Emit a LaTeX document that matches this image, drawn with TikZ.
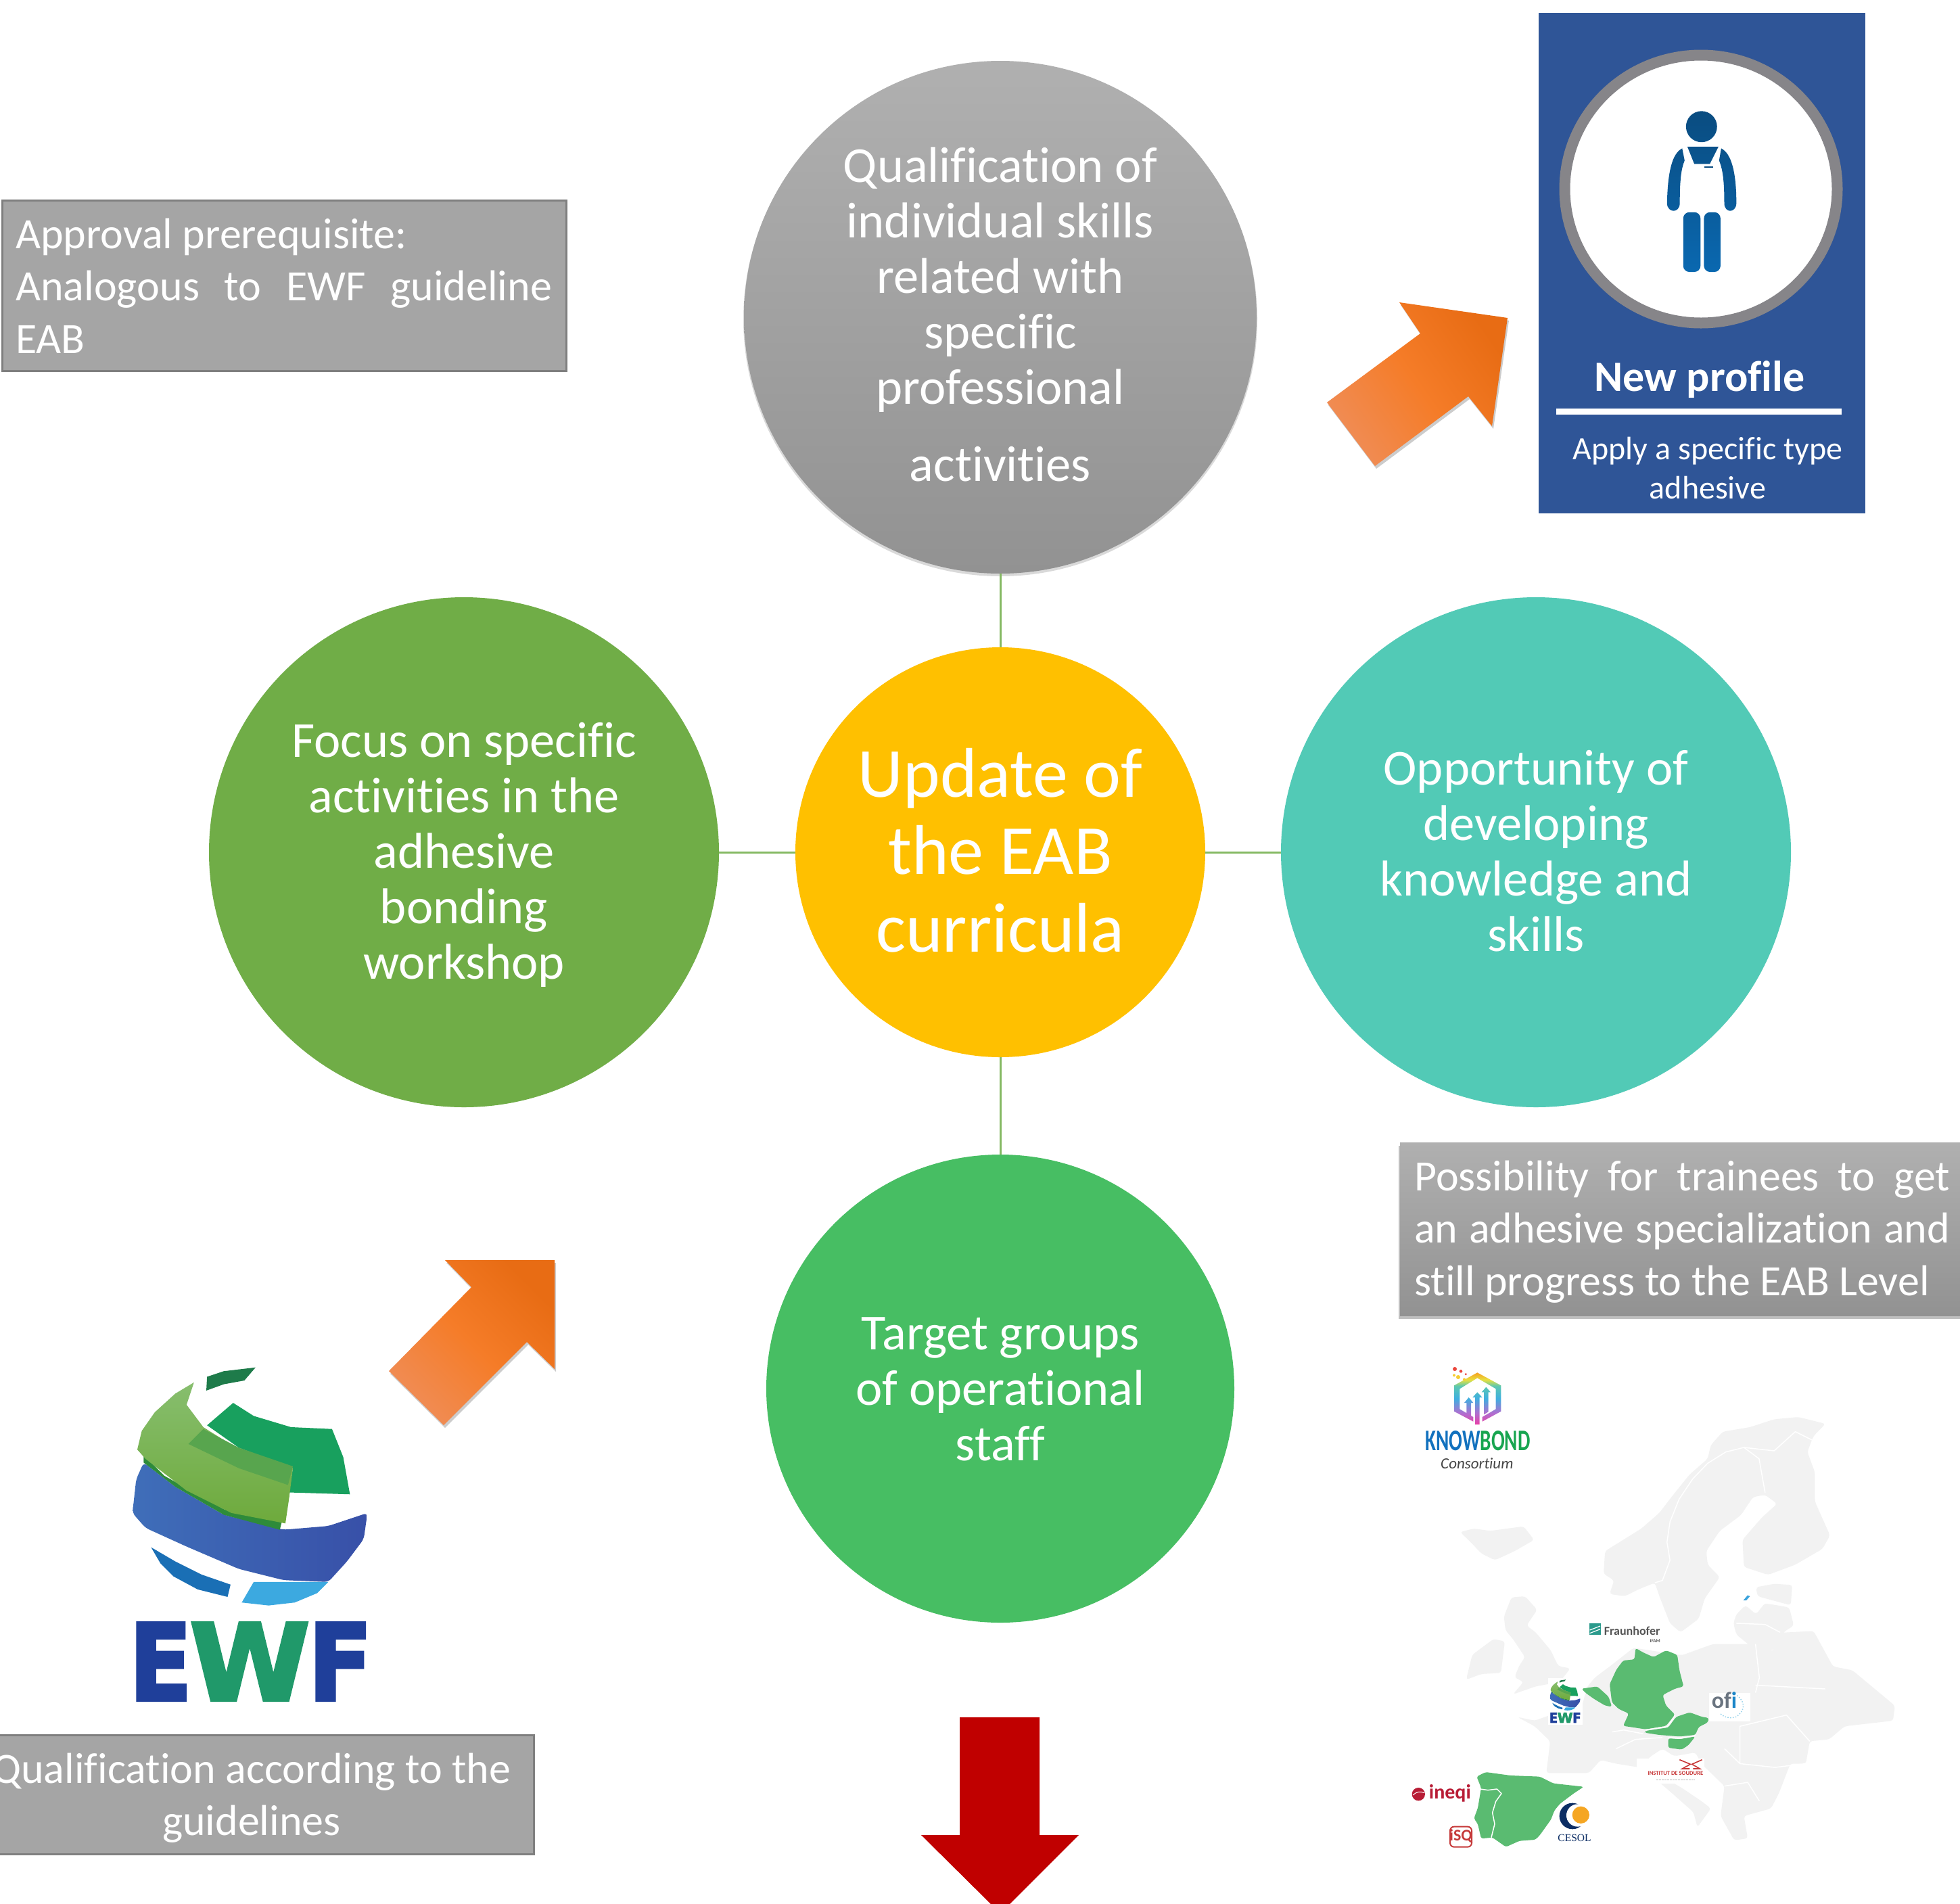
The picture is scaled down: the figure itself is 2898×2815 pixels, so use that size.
\documentclass[tikz,border=0pt]{standalone}
\usetikzlibrary{shapes.geometric}
\usepackage{fontspec}
\usepackage{graphicx}
\setmainfont{Carlito}[Ligatures=NoCommon]
\newfontfamily\serifcesol{Liberation Serif}
\newfontfamily\heavyf{DejaVu Sans}[FakeBold=3]
\newlength\pxu \setlength\pxu{0.03cm}
\newcommand\fsz[2]{\fontsize{\dimexpr#1\pxu\relax}{\dimexpr#2\pxu\relax}\selectfont}
\newcommand\fst{\rule{0pt}{70\pxu}}
\definecolor{cAmber}{HTML}{FFC000}
\definecolor{cLeaf}{HTML}{70AD47}
\definecolor{cTeal}{HTML}{52CAB6}
\definecolor{cGreen}{HTML}{47BE63}
\definecolor{cNavy}{HTML}{2F5597}
\definecolor{cRing}{HTML}{868589}
\definecolor{cBox}{HTML}{A5A5A5}
\definecolor{cBoxEdge}{HTML}{7F7F7F}
\definecolor{cLand}{HTML}{F2F2F2}
\definecolor{cMapG}{HTML}{5ABB71}
\definecolor{cLogoRed}{HTML}{B81D36}
\definecolor{cGrayT}{HTML}{B0B0B0}
\definecolor{cGrayB}{HTML}{929292}
\definecolor{cArrT}{HTML}{E86C14}
\definecolor{cArrM}{HTML}{F57C28}
\definecolor{cArrB}{HTML}{F08C54}
\definecolor{cRed}{HTML}{C00000}
\definecolor{cPersT}{HTML}{0A4C80}
\definecolor{cPersB}{HTML}{0A68B0}
\definecolor{cEwfDk}{HTML}{1E7B4A}
\definecolor{cEwfBlL}{HTML}{3F6EB9}
\definecolor{cEwfBlR}{HTML}{3850A8}
\definecolor{cEwfSt}{HTML}{2E8B3A}
\definecolor{cEwfGr}{HTML}{18A05E}
\definecolor{cEwfLgT}{HTML}{87BE6E}
\definecolor{cEwfLgB}{HTML}{6EAA3C}
\definecolor{cEwfMd}{HTML}{58A54E}
\definecolor{cEwfSm}{HTML}{1A6FB5}
\definecolor{cEwfLb}{HTML}{3CA9E0}
\definecolor{cEwfE}{HTML}{1F3F9A}
\definecolor{cEwfW}{HTML}{20996A}
\definecolor{cFraun}{HTML}{2B9A8C}
\definecolor{cFrText}{HTML}{555555}
\definecolor{cCesN}{HTML}{0C2D64}
\definecolor{cCesO}{HTML}{F5A623}
\definecolor{cIsq}{HTML}{C63A3A}
\definecolor{cOfiG}{HTML}{6A7480}
\definecolor{cOfiB}{HTML}{1C86C8}
\definecolor{cOfiL}{HTML}{96D2EB}
\definecolor{cInst}{HTML}{C83838}
\definecolor{cKnow}{HTML}{1271BE}
\definecolor{cBond}{HTML}{18A550}
\definecolor{cCons}{HTML}{464646}
\definecolor{cSliver}{HTML}{3AA3DC}
\definecolor{cDotR}{HTML}{EB463C}
\definecolor{cDotY}{HTML}{F5CD32}
\definecolor{kA}{HTML}{E83FA6}
\definecolor{kB}{HTML}{B06FD0}
\definecolor{kC}{HTML}{3FAFE0}
\definecolor{kD}{HTML}{5CC8B0}
\definecolor{kE}{HTML}{E6E040}
\definecolor{kF}{HTML}{F6A020}
\pgfdeclareverticalshading{kbgrad}{100bp}{color(0bp)=(kA);color(25bp)=(kA);color(36bp)=(kB);color(50bp)=(kC);color(62bp)=(kD);color(68bp)=(kE);color(75bp)=(kF);color(100bp)=(kF)}
\tikzset{
  circ/.style={circle,inner sep=0pt,minimum size=#1*\pxu},
  lab/.style={inner sep=0pt,anchor=north,align=center,text=white,font=\fsz{74.5}{82}},
  boxtxt/.style={inner sep=0pt,anchor=north,text=white,font=\fsz{64}{77.5}},
  graybox/.style={rectangle,inner sep=0pt,fill=cBox,draw=cBoxEdge,line width=3\pxu},
  conn/.style={draw=cLeaf!85!white,line width=3\pxu},
  logotxt/.style={inner sep=0pt,anchor=base},
  whiteline/.style={draw=white,line width=1.5\pxu,line join=round},
  land/.style={fill=cLand,rounded corners=4\pxu},
  mapg/.style={fill=cMapG,rounded corners=3\pxu},
}
\newcommand\ewflogo[4]{%
\begin{scope}[shift={(#1,#2)},scale=#3]
  \fill[white] (320,100) rectangle (1030,1060);
  \fill[cEwfDk] (555,155) -- (600,140) -- (685,130) -- (655,165) -- (600,175) -- (553,192) -- cycle;
  \shade[left color=cEwfBlL,right color=cEwfBlR,rounded corners=6\pxu*#3/0.55] (385,385) -- (470,450) -- (600,525) -- (760,565) -- (880,555) -- (985,520) -- (975,590) -- (930,650) -- (880,705) -- (760,700) -- (640,670) -- (500,610) -- (390,560) -- (355,520) -- (365,430) -- cycle;
  \fill[cEwfSt] (385,365) -- (440,420) -- (600,510) -- (755,545) -- (750,565) -- (600,525) -- (470,450) -- (385,385) -- cycle;
  \fill[cEwfGr] (555,285) -- (625,225) -- (680,260) -- (780,290) -- (890,295) -- (920,370) -- (938,470) -- (775,465) -- (785,400) -- (640,345) -- cycle;
  \shade[top color=cEwfLgT,bottom color=cEwfLgB] (520,170) -- (470,200) -- (415,250) -- (380,300) -- (368,350) -- (390,375) -- (500,460) -- (620,520) -- (765,548) -- (775,480) -- (785,400) -- (640,350) -- (545,290) -- (500,230) -- cycle;
  \fill[cEwfMd] (505,335) -- (545,295) -- (640,345) -- (785,395) -- (772,445) -- (640,400) -- cycle;
  \fill[cEwfSm] (405,612) -- (470,650) -- (540,685) -- (618,712) -- (610,745) -- (530,725) -- (465,690) -- (430,655) -- cycle;
  \fill[cEwfLb] (680,705) -- (880,705) -- (850,735) -- (790,760) -- (720,768) -- (648,760) -- cycle;
  \node[logotxt,anchor=base west,transform shape] (#4E) at (346,1022) {\resizebox{168\pxu}{207\pxu}{\color{cEwfE}\heavyf\bfseries E}};
  \node[logotxt,anchor=base west,transform shape] (#4W) at (508,1022) {\resizebox{322\pxu}{207\pxu}{\color{cEwfW}\heavyf\bfseries W}};
  \node[logotxt,anchor=base west,transform shape] (#4F) at (826,1022) {\resizebox{172\pxu}{207\pxu}{\color{cEwfE}\heavyf\bfseries F}};
\end{scope}}
\begin{document}
\begin{tikzpicture}[x=0.03cm,y=-0.03cm]
\useasboundingbox (0,0) rectangle (2898,2815);
\fill[white] (0,0) rectangle (2898,2815);

%% --- main circles ---
\fill[black,opacity=.15] (1479,472) circle (380);
\node[circ=758,top color=cGrayT,bottom color=cGrayB] (top) at (1479,469) {};
\node[circ=606,fill=cAmber] (mid) at (1479,1260) {};
\node[circ=754,fill=cLeaf] (left) at (686,1260) {};
\node[circ=754,fill=cTeal] (right) at (2271,1260) {};
\node[circ=692,fill=cGreen] (bot) at (1479,2053) {};
\draw[conn] (mid) -- (top);
\draw[conn] (mid) -- (left);
\draw[conn] (mid) -- (right);
\draw[conn] (mid) -- (bot);

\node[lab] (toptext) at (1479,199) {\fst Qualification of\\individual skills\\related with\\specific\\professional\\[32\pxu]activities};
\node[lab,font=\fsz{104}{114.6}] (midtext) at (1479,1093) {\rule{0pt}{85\pxu}Update of\\the EAB\\curricula};
\node[lab] (lefttext) at (686,1049) {\fst Focus on specific\\activities in the\\adhesive\\bonding\\workshop};
\node[lab] (righttext) at (2271,1090) {\fst Opportunity of\\developing\\knowledge and\\skills};
\node[lab] (bottext) at (1479,1925) {\fst Target groups\\of operational\\staff};

%% --- grey boxes ---
\node[graybox,minimum width=834\pxu,minimum height=252\pxu] (boxA) at (420,422) {};
\node[boxtxt,align=left,anchor=north west] (boxAtext) at (23,297) {\fst Approval prerequisite:\\\makebox[793\pxu][s]{Analogous to EWF guideline}\\EAB};

\fill[black,opacity=.25] (2068,1694) rectangle (2898,1950);
\node[rectangle,inner sep=0pt,minimum width=840\pxu,minimum height=256\pxu,top color=cGrayT,bottom color=cGrayB] (boxB) at (2490,1817) {};
\node[boxtxt,align=left,anchor=north west] (boxBtext) at (2091,1690) {\fst\makebox[792\pxu][s]{Possibility for trainees to get}\\\makebox[792\pxu][s]{an adhesive specialization and}\\still progress to the EAB Level};

\node[graybox,minimum width=802\pxu,minimum height=176\pxu] (boxC) at (388,2653) {};
\begin{scope}
\clip (0,2500) rectangle (900,2800);
\node[boxtxt,align=center] (boxCtext) at (372,2566) {\fst Qualification according to the\\guidelines};
\end{scope}

%% --- New profile card ---
\node[rectangle,inner sep=0pt,fill=cNavy,minimum width=483\pxu,minimum height=740\pxu] (card) at (2516.5,388.5) {};
\node[ellipse,inner sep=0pt,minimum width=403\pxu,minimum height=396\pxu,fill=white,draw=cRing,line width=16\pxu] (ring) at (2515,279.5) {};
\begin{scope}[shift={(2000,0)},scale=0.5102]
\shade[top color=cPersT,bottom color=cPersB]
  (1011,367) circle (45)
  (970,425) -- (1060,425) -- (1035,475) -- (990,475) -- cycle
  (955,430) .. controls (925,445) and (913,500) .. (911,590) .. controls (913,618) and (947,618) .. (948,590) .. controls (948,520) and (952,490) .. (962,465) -- cycle
  (1068,430) .. controls (1098,445) and (1112,500) .. (1112,590) .. controls (1110,618) and (1078,618) .. (1077,590) .. controls (1077,520) and (1072,490) .. (1062,465) -- cycle
  [rounded corners=9\pxu] (958,615) -- (1008,615) -- (1008,788) -- (958,788) -- cycle
  (1018,615) -- (1066,615) -- (1066,788) -- (1018,788) -- cycle;
\draw[cPersT,line width=1.5\pxu] (1020,484) -- (1045,484);
\end{scope}
\node[logotxt,text=white,font=\fsz{64}{70}\bfseries] (newprofile) at (2513,578) {New profile};
\fill[white] (2301,604) rectangle (2723,613);
\node[lab,font=\fsz{48}{58.5}] (applytext) at (2525,639) {\rule{0pt}{40\pxu}Apply a specific type\\adhesive};

%% --- orange arrows ---
\fill[black,opacity=.2] (2071,451) -- (2231,474) -- (2208,634) -- (2173,590) -- (2035,693) -- (1964,599) -- (2102,497) -- cycle;
\shade[top color=cArrT,bottom color=cArrB,middle color=cArrM,shading angle=-55] (2069,447) -- (2229,470) -- (2206,630) -- (2171,586) -- (2033,689) -- (1962,595) -- (2100,493) -- cycle;
\fill[black,opacity=.2] (660,1867) -- (822,1867) -- (822,2028) -- (781,1988) -- (658,2111) -- (577,2031) -- (699,1907) -- cycle;
\shade[top color=cArrT,bottom color=cArrB,middle color=cArrM,shading angle=-45] (658,1863) -- (820,1863) -- (820,2024) -- (779,1984) -- (656,2107) -- (575,2027) -- (697,1903) -- cycle;

%% --- red arrow ---
\fill[cRed] (1419,2539) -- (1537,2539) -- (1537,2713) -- (1595,2713) -- (1493,2815) -- (1465,2815) -- (1362,2713) -- (1419,2713) -- cycle;

%% --- EWF logo ---
\ewflogo{0}{1950}{0.5516}{ewfa}

%% --- map: northern land ---
\begin{scope}[shift={(2150,2080)},xscale=0.4464,yscale=0.3333]
\fill[land] (515,830) -- (530,770) -- (495,740) -- (500,640) -- (560,590) -- (620,540) -- (680,470) -- (720,400) -- (780,300) -- (840,230) -- (850,170) -- (890,110) -- (980,90) -- (1060,55) -- (1140,45) -- (1230,75) -- (1190,130) -- (1170,200) -- (1195,290) -- (1195,420) -- (1245,570) -- (1220,630) -- (1130,700) -- (1040,745) -- (960,710) -- (955,590) -- (1020,490) -- (1070,430) -- (1030,390) -- (990,400) -- (950,480) -- (880,550) -- (835,640) -- (840,700) -- (880,755) -- (830,850) -- (810,940) -- (750,1000) -- (715,960) -- (680,840) -- (665,780) -- (610,810) -- (565,840) -- cycle;
\fill[land] (1000,800) -- (1060,785) -- (1120,790) -- (1115,880) -- (1060,860) -- (1005,840) -- cycle;
\fill[land] (935,920) -- (965,880) -- (1000,920) -- (1030,870) -- (1110,890) -- (1125,970) -- (1090,1000) -- (1085,1060) -- (1030,1090) -- (990,1070) -- (935,1010) -- (925,960) -- cycle;
\fill[land] (20,555) -- (65,540) -- (120,550) -- (230,530) -- (265,590) -- (200,640) -- (135,680) -- (90,650) -- (55,600) -- cycle;
\fill[land] (190,845) -- (235,840) -- (275,900) -- (240,970) -- (270,1000) -- (320,1080) -- (345,1150) -- (385,1160) -- (350,1220) -- (270,1240) -- (195,1275) -- (230,1220) -- (200,1200) -- (215,1150) -- (235,1110) -- (195,1030) -- (170,990) -- (165,930) -- cycle;
\fill[land] (130,1030) -- (168,1040) -- (155,1180) -- (90,1185) -- (40,1210) -- (60,1100) -- cycle;
\fill[cSliver] (958,858) -- (972,836) -- (980,840) -- (968,858) -- cycle;
\end{scope}
%% --- map: mainland ---
\begin{scope}[shift={(2000,1950)},xscale=0.5727,yscale=0.5525]
\fill[land] (425,1065) -- (470,1075) -- (510,1060) -- (590,1045) -- (605,985) -- (625,960) -- (670,925) -- (725,880) -- (850,900) -- (930,870) -- (1040,870) -- (1085,890) -- (1100,840) -- (1190,835) -- (1240,930) -- (1290,940) -- (1400,1035) -- (1395,1075) -- (1270,1090) -- (1230,1125) -- (1180,1130) -- (1170,1190) -- (1130,1190) -- (1100,1270) -- (1080,1310) -- (1010,1330) -- (1020,1390) -- (985,1395) -- (950,1330) -- (960,1250) -- (900,1190) -- (885,1160) -- (830,1170) -- (800,1150) -- (770,1170) -- (740,1200) -- (680,1190) -- (640,1180) -- (610,1215) -- (500,1215) -- (510,1130) -- (470,1090) -- cycle;
\fill[land] (775,1195) -- (800,1225) -- (850,1255) -- (900,1290) -- (925,1310) -- (890,1360) -- (880,1320) -- (820,1265) -- (775,1225) -- cycle;
\draw[whiteline] (670,1105) -- (700,1100) -- (750,1110);
\draw[whiteline] (680,1150) -- (730,1125) -- (800,1120);
\draw[whiteline] (960,1150) -- (1000,1190) -- (1000,1090) -- (1120,1060) -- (1180,1130);
\draw[whiteline] (1000,1190) -- (1090,1200) -- (1170,1190);
\draw[whiteline] (960,1250) -- (1020,1240) -- (1050,1290);
\draw[whiteline] (1040,870) -- (1050,960) -- (1040,1000);
\draw[whiteline] (1040,980) -- (1220,990);
\end{scope}
\begin{scope}[shift={(2150,2080)},xscale=0.4464,yscale=0.3333]
\draw[whiteline] (665,780) -- (690,770) -- (715,680) -- (705,600) -- (715,510) -- (745,410) -- (790,320) -- (840,250) -- (900,200) -- (960,180) -- (1010,230) -- (1030,380);
\draw[whiteline] (960,180) -- (1060,195) -- (1130,110) -- (1190,150);
\draw[whiteline] (935,960) -- (1030,965) -- (1080,1000);
\draw[whiteline] (1030,870) -- (1115,885);
\end{scope}
%% --- map: green countries + logos in the lower crop ---
\begin{scope}[shift={(2050,2380)},scale=0.3333]
\fill[mapg] (1105,170) -- (1140,190) -- (1185,210) -- (1240,180) -- (1290,200) -- (1300,270) -- (1318,340) -- (1280,350) -- (1225,378) -- (1240,425) -- (1280,465) -- (1240,515) -- (1150,530) -- (1050,515) -- (1075,460) -- (1030,440) -- (1000,410) -- (990,330) -- (1020,265) -- (1050,225) -- (1100,220) -- cycle;
\fill[mapg] (1285,475) -- (1345,455) -- (1400,475) -- (1430,480) -- (1425,500) -- (1385,520) -- (1370,555) -- (1300,562) -- (1210,555) -- (1145,545) -- (1150,537) -- (1250,522) -- cycle;
\fill[mapg] (1250,570) -- (1300,574) -- (1370,562) -- (1340,600) -- (1310,620) -- (1250,612) -- cycle;
\fill[mapg] (865,350) -- (935,340) -- (985,385) -- (1000,430) -- (970,425) -- (920,395) -- (885,370) -- cycle;
\fill[mapg] (400,740) -- (440,720) -- (550,735) -- (680,740) -- (740,770) -- (875,785) -- (830,815) -- (770,860) -- (745,890) -- (730,930) -- (680,1000) -- (660,1020) -- (590,1025) -- (530,1052) -- (470,1010) -- (420,1015) -- (405,950) -- (388,925) -- (405,880) -- (420,790) -- cycle;
\draw[whiteline] (415,795) -- (450,800) -- (490,795) -- (510,815) -- (485,850) -- (470,900) -- (480,950) -- (465,1010);
\draw[whiteline] (1280,468) -- (1247,518) -- (1150,533);
\draw[whiteline] (1250,566) -- (1300,570) -- (1372,558);
%% Fraunhofer
\fill[cFraun] (900,60) rectangle (950,112);
\draw[white,line width=1.2\pxu] (902,90) -- (948,72) (902,104) -- (948,86);
\node[logotxt,anchor=base west,text=cFrText,font=\fsz{18}{20}\bfseries] (fraun) at (965,112) {Fraunhofer};
\node[logotxt,anchor=base east,text=cFrText,font=\fsz{7}{8}\bfseries] (ifam) at (1215,145) {IFAM};
%% ineqi
\fill[cLogoRed] (142,818) circle (29);
\draw[white,line width=1\pxu] (118,822) .. controls (135,805) and (150,805) .. (168,812);
\node[logotxt,anchor=base west,text=cLogoRed,font=\fsz{30}{32}\bfseries] (ineqi) at (188,838) {ineqi};
%% iSQ
\draw[draw=cIsq,line width=2\pxu,rounded corners=6\pxu,fill=white] (282,962) rectangle (378,1052);
\node[logotxt,text=cIsq,font=\fsz{24}{26}\bfseries] (isq) at (330,1025) {iSQ};
%% CESOL
\fill[cCesN] (825,915) circle (58);
\fill[white] (848,912) circle (50);
\fill[cCesO] (862,910) circle (38);
\node[logotxt,text=cCesN,font=\serifcesol\fsz{15.5}{18}] (cesol) at (834,1028) {CESOL};
\end{scope}
\ewflogo{2266.3}{2474}{0.0714}{ewfb}
%% ofi, institut
\begin{scope}[shift={(2400,2480)},scale=0.3333]
\fill[white] (380,68) rectangle (565,195);
\node[logotxt,anchor=base west,font=\fsz{34}{36}\bfseries] (ofi) at (392,135) {\textcolor{cOfiG}{of}\textcolor{cOfiB}{i}};
\draw[cOfiL,line width=1.5\pxu,dotted] (505,80) .. controls (545,110) and (540,150) .. (500,175) .. controls (480,182) and (450,180) .. (430,160);
\fill[white] (60,360) rectangle (360,470);
\draw[cInst,line width=1.6\pxu] (250,365) -- (298,385) -- (262,405) -- (295,405) (350,365) -- (305,385) -- (340,405) -- (310,405);
\node[logotxt,text=cInst,font=\fsz{8.6}{9}\bfseries] (institut) at (232,433) {INSTITUT DE SOUDURE};
\draw[gray!60,line width=1.2\pxu,dash pattern=on 3\pxu off 1\pxu] (147,455) -- (318,455);
\end{scope}
%% Knowbond
\begin{scope}[shift={(2050,2000)},scale=0.3333]
\shade[shading=kbgrad,even odd rule] (403,88) -- (508,145) -- (508,260) -- (425,305) -- (425,285) -- (485,250) -- (485,160) -- (403,112) -- (325,160) -- (325,250) -- (385,285) -- (385,305) -- (300,260) -- (300,145) -- cycle
 (403,175) -- (425,198) -- (413,198) -- (413,318) -- (393,318) -- (393,198) -- (382,198) -- cycle
 (365,198) -- (385,222) -- (375,222) -- (375,280) -- (355,268) -- (355,222) -- (345,222) -- cycle
 (442,152) -- (462,175) -- (452,175) -- (452,262) -- (432,274) -- (432,175) -- (422,175) -- cycle;
\fill[cDotR] (303,72) circle (9) (330,82) circle (7) (352,95) circle (5);
\fill[cDotY] (300,100) circle (6) (318,108) circle (9) (345,118) circle (6) (378,112) circle (5);
\node[logotxt,anchor=base west] (knowbond) at (172,432) {\resizebox{155\pxu}{29\pxu}{\fsz{40}{42}\bfseries\textcolor{cKnow}{KNOW}\textcolor{cBond}{BOND}}};
\node[logotxt,anchor=base west,text=cCons,font=\fsz{23}{25}\itshape] (consort) at (240,515) {Consortium};
\end{scope}
\end{tikzpicture}
\end{document}
